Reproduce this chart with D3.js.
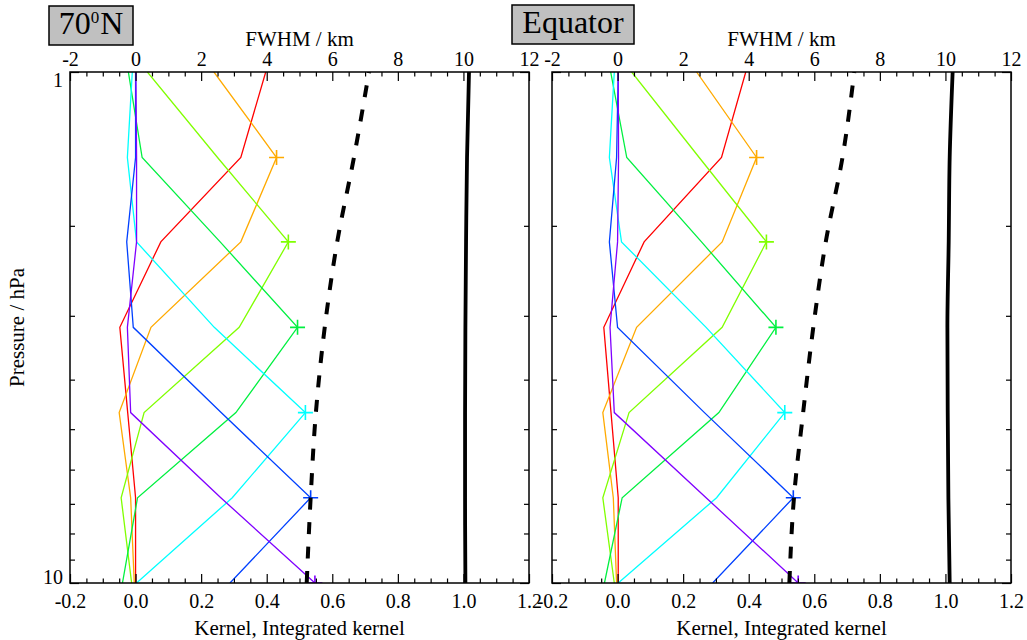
<!DOCTYPE html>
<html>
<head>
<meta charset="utf-8">
<script src="https://cdn.jsdelivr.net/npm/d3@7"></script>
<style>
  body { margin: 0; background: #ffffff; }
  svg { display: block; }
  text { font-family: "Liberation Serif", "Times New Roman", serif; fill: #000; }
</style>
</head>
<body>
<script>
// ---------------- DATA ----------------
const pressure = [1.00, 1.47, 2.15, 3.16, 4.64, 6.81, 10.0];      // hPa, retrieval levels
const kernelColors = ["#ff0000", "#ffaa00", "#80ff00", "#00f040", "#00ffff", "#0040ff", "#8000ff"];
const markerLevel = [null, 1, 2, 3, 4, 5, 6];                     // '+' symbol position per kernel

// 70°N averaging kernels (one array per kernel, values at the pressure levels)
const k70N_red    = [0.397, 0.321, 0.077, -0.048, -0.024, 0.000, 0.000];
const k70N_orange = [0.239, 0.430, 0.321, 0.047, -0.050, -0.015, -0.004];
const k70N_ygreen = [0.036, 0.250, 0.466, 0.316, 0.026, -0.044, -0.012];
const k70N_green  = [-0.022, 0.020, 0.258, 0.494, 0.306, 0.006, -0.040];
const k70N_cyan   = [-0.010, -0.025, 0.003, 0.240, 0.518, 0.295, 0.003];
const k70N_blue   = [0.000, 0.000, -0.027, -0.007, 0.261, 0.534, 0.288];
const k70N_purple = [0.001, 0.003, 0.003, -0.025, -0.015, 0.260, 0.547];
const fwhm70N       = [7.12, 6.66, 6.15, 5.77, 5.50, 5.34, 5.22];   // km
const integrated70N = [1.017, 1.011, 1.008, 1.006, 1.005, 1.005, 1.006];

// Equator averaging kernels
const kEq_red    = [0.391, 0.317, 0.081, -0.042, -0.020, 0.002, 0.002];
const kEq_orange = [0.241, 0.424, 0.319, 0.058, -0.045, -0.013, -0.003];
const kEq_ygreen = [0.043, 0.249, 0.454, 0.319, 0.035, -0.045, -0.010];
const kEq_green  = [-0.021, 0.028, 0.256, 0.483, 0.309, 0.014, -0.040];
const kEq_cyan   = [-0.010, -0.025, 0.012, 0.270, 0.510, 0.302, 0.002];
const kEq_blue   = [0.002, -0.003, -0.025, 0.000, 0.265, 0.536, 0.290];
const kEq_purple = [0.002, 0.003, 0.000, -0.023, -0.010, 0.270, 0.551];
const fwhmEq       = [7.22, 6.86, 6.35, 5.97, 5.66, 5.38, 5.24];
const integratedEq = [1.022, 1.013, 1.010, 1.006, 1.007, 1.009, 1.013];

// Axis tick values / labels
const kernelTicks = [-0.2, 0.0, 0.2, 0.4, 0.6, 0.8, 1.0, 1.2];
const fwhmTicks   = [-2, 0, 2, 4, 6, 8, 10, 12];
const pressureTicks = [1, 10];
const pressureMinor = [2, 3, 4, 5, 6, 7, 8, 9];

const panels = [
  { id: "n70", title: ["70", "0", "N"], kernels: [k70N_red, k70N_orange, k70N_ygreen, k70N_green, k70N_cyan, k70N_blue, k70N_purple],
    fwhm: fwhm70N, integrated: integrated70N, x0: 70, x1: 529, yLabels: true,
    box: { x: 49, y: 6, w: 84, h: 39 } },
  { id: "eq", title: ["Equator"], kernels: [kEq_red, kEq_orange, kEq_ygreen, kEq_green, kEq_cyan, kEq_blue, kEq_purple],
    fwhm: fwhmEq, integrated: integratedEq, x0: 552, x1: 1011, yLabels: false,
    box: { x: 512, y: 5, w: 122, h: 39 } }
];

// ---------------- DRAW ----------------
const W = 1027, H = 640, Y0 = 72, Y1 = 583;
const FONT = '"Liberation Serif", "Times New Roman", serif';
const svg = d3.select("body").append("svg").attr("width", W).attr("height", H);

const fmtK = d => d.toFixed(1);
const fmtF = d => String(d);

panels.forEach(p => {
  const x = d3.scaleLinear().domain([-0.2, 1.2]).range([p.x0, p.x1]);
  const xF = d3.scaleLinear().domain([-2, 12]).range([p.x0, p.x1]);
  const y = d3.scaleLog().domain([1, 10]).range([Y0, Y1]);   // 1 hPa at top

  const clipId = "clip-" + p.id;
  svg.append("clipPath").attr("id", clipId).append("rect")
    .attr("x", p.x0).attr("y", Y0).attr("width", p.x1 - p.x0).attr("height", Y1 - Y0);

  const g = svg.append("g").attr("clip-path", `url(#${clipId})`);

  // kernels
  const line = d3.line().x(d => x(d[0])).y(d => y(d[1]));
  p.kernels.forEach((k, i) => {
    const pts = k.map((v, j) => [v, pressure[j]]);
    g.append("path").attr("d", line(pts))
      .attr("fill", "none").attr("stroke", kernelColors[i]).attr("stroke-width", 1.3);
  });
  p.kernels.forEach((k, i) => {
    const m = markerLevel[i];
    if (m === null) return;
    g.append("path")
      .attr("transform", `translate(${x(k[m])},${y(pressure[m])})`)
      .attr("d", "M-7.5,0H7.5M0,-7.5V7.5")
      .attr("stroke", kernelColors[i]).attr("stroke-width", 1.6).attr("fill", "none");
  });

  // FWHM dashed (drawn from bottom up) — top axis scale
  const fw = p.fwhm.map((v, j) => [v, pressure[j]]).reverse();
  g.append("path")
    .attr("d", d3.line().x(d => xF(d[0])).y(d => y(d[1])).curve(d3.curveMonotoneY)(fw))
    .attr("fill", "none").attr("stroke", "#000").attr("stroke-width", 4)
    .attr("stroke-dasharray", "12,12.5");

  // integrated kernel solid
  const ik = p.integrated.map((v, j) => [v, pressure[j]]);
  g.append("path")
    .attr("d", d3.line().x(d => x(d[0])).y(d => y(d[1])).curve(d3.curveMonotoneY)(ik))
    .attr("fill", "none").attr("stroke", "#000").attr("stroke-width", 3.8);

  // axes
  const minorK = d3.range(-0.2, 1.2001, 0.05).filter(v => !kernelTicks.some(t => Math.abs(t - v) < 1e-6));
  const minorF = d3.range(-2, 12.001, 0.5).filter(v => !fwhmTicks.some(t => Math.abs(t - v) < 1e-6));

  // bottom
  const gb = svg.append("g").attr("transform", `translate(0,${Y1})`);
  gb.call(d3.axisBottom(x).tickValues(minorK).tickSize(-4.5).tickSizeOuter(0).tickFormat(""));
  gb.select(".domain").remove();
  const gb2 = svg.append("g").attr("transform", `translate(0,${Y1})`);
  gb2.call(d3.axisBottom(x).tickValues(kernelTicks).tickSize(-9).tickSizeOuter(0).tickPadding(11).tickFormat(fmtK));
  gb2.select(".domain").remove();

  // top
  const gt = svg.append("g").attr("transform", `translate(0,${Y0})`);
  gt.call(d3.axisTop(xF).tickValues(minorF).tickSize(-4.5).tickSizeOuter(0).tickFormat(""));
  gt.select(".domain").remove();
  const gt2 = svg.append("g").attr("transform", `translate(0,${Y0})`);
  gt2.call(d3.axisTop(xF).tickValues(fwhmTicks).tickSize(-9).tickSizeOuter(0).tickPadding(6).tickFormat(fmtF));
  gt2.select(".domain").remove();

  // left / right
  [[d3.axisLeft, p.x0], [d3.axisRight, p.x1]].forEach(([ax, xp], side) => {
    const gl = svg.append("g").attr("transform", `translate(${xp},0)`);
    gl.call(ax(y).tickValues(pressureMinor).tickSize(-5).tickSizeOuter(0).tickFormat(""));
    gl.select(".domain").remove();
    const gl2 = svg.append("g").attr("transform", `translate(${xp},0)`);
    gl2.call(ax(y).tickValues(pressureTicks).tickSize(-9).tickSizeOuter(0).tickPadding(7)
      .tickFormat(side === 0 && p.yLabels ? fmtF : ""));
    gl2.select(".domain").remove();
    if (side === 0 && p.yLabels) {
      gl2.selectAll("text").attr("dy", d => d === 1 ? "0.71em" : "0em");
    }
  });

  svg.selectAll(".tick line").attr("stroke", "#000").attr("stroke-width", 1.2);
  svg.selectAll(".tick text").style("font-family", FONT).style("font-size", "20px").attr("fill", "#000");

  // frame
  svg.append("rect").attr("x", p.x0).attr("y", Y0).attr("width", p.x1 - p.x0).attr("height", Y1 - Y0)
    .attr("fill", "none").attr("stroke", "#000").attr("stroke-width", 1.5);

  // axis titles
  const cx = (p.x0 + p.x1) / 2;
  svg.append("text").attr("x", cx).attr("y", 46).attr("text-anchor", "middle")
    .style("font-family", FONT).style("font-size", "21px").text("FWHM / km");
  svg.append("text").attr("x", cx).attr("y", 635).attr("text-anchor", "middle")
    .style("font-family", FONT).style("font-size", "21px").text("Kernel, Integrated kernel");

  // title box
  svg.append("rect").attr("x", p.box.x).attr("y", p.box.y).attr("width", p.box.w).attr("height", p.box.h)
    .attr("fill", "#c0c0c0").attr("stroke", "#000").attr("stroke-width", 1.5);
  const tt = svg.append("text").attr("x", p.box.x + p.box.w / 2).attr("y", p.box.y + 28)
    .attr("text-anchor", "middle").style("font-family", FONT).style("font-size", "32px");
  if (p.title.length === 3) {
    tt.append("tspan").text(p.title[0]);
    tt.append("tspan").attr("dy", -11).style("font-size", "17px").text(p.title[1]);
    tt.append("tspan").attr("dy", 11).attr("dx", 1).text(p.title[2]);
  } else {
    tt.text(p.title[0]);
  }
});

// y axis title
svg.append("text").attr("transform", `translate(24,${(Y0 + Y1) / 2}) rotate(-90)`)
  .attr("text-anchor", "middle").style("font-family", FONT).style("font-size", "21px").text("Pressure / hPa");
</script>
</body>
</html>
